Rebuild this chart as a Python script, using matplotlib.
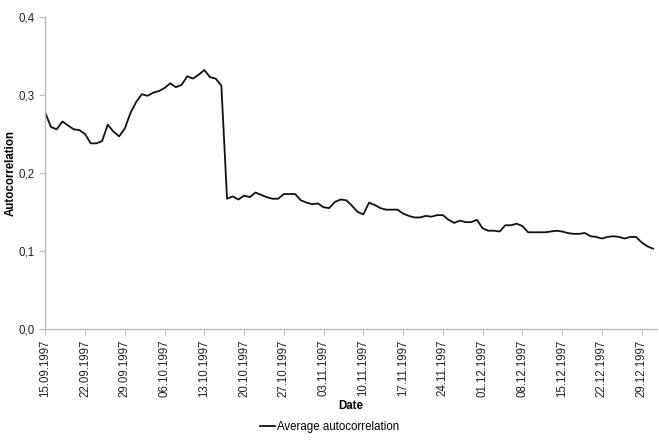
import pandas as pd
import matplotlib
matplotlib.use("Agg")
from matplotlib import pyplot as plt
import matplotlib.dates as mdates
from matplotlib.ticker import FuncFormatter, MultipleLocator


# Daily average autocorrelation, 15.09.1997 - 31.12.1997
start_date = "1997-09-15"
autocorr = [
    0.277, 0.259, 0.256, 0.266, 0.261, 0.256, 0.255, 0.250, 0.238, 0.238,
    0.241, 0.262, 0.253, 0.247, 0.257, 0.277, 0.291, 0.301, 0.299, 0.303,
    0.305, 0.309, 0.315, 0.310, 0.313, 0.324, 0.321, 0.326, 0.332, 0.323,
    0.321, 0.312, 0.167, 0.170, 0.166, 0.171, 0.169, 0.175, 0.172, 0.169,
    0.167, 0.167, 0.173, 0.173, 0.173, 0.165, 0.162, 0.160, 0.161, 0.156,
    0.155, 0.163, 0.166, 0.165, 0.158, 0.150, 0.147, 0.162, 0.159, 0.155,
    0.153, 0.153, 0.153, 0.148, 0.145, 0.143, 0.143, 0.145, 0.144, 0.146,
    0.146, 0.140, 0.136, 0.139, 0.137, 0.137, 0.140, 0.129, 0.126, 0.126,
    0.125, 0.133, 0.133, 0.135, 0.132, 0.124, 0.124, 0.124, 0.124, 0.125,
    0.126, 0.125, 0.123, 0.122, 0.122, 0.123, 0.119, 0.118, 0.116, 0.118,
    0.119, 0.118, 0.116, 0.118, 0.118, 0.111, 0.106, 0.103,
]
dates = pd.date_range(start_date, periods=len(autocorr), freq="D")
tick_dates = pd.date_range("1997-09-15", "1997-12-29", freq="7D")

plt.rcParams['font.family'] = ['Liberation Sans', 'DejaVu Sans']

fig = plt.figure(figsize=(6.59, 4.46), dpi=100)
ax = fig.add_axes([45 / 659, 1 - 329 / 446, 612 / 659, 312 / 446])

line, = ax.plot(dates, autocorr, color='#111111', linewidth=1.3,
                label='Average autocorrelation')

ax.set_ylim(0, 0.4)
ax.yaxis.set_major_locator(MultipleLocator(0.1))
ax.yaxis.set_major_formatter(
    FuncFormatter(lambda v, p: f"{v:.1f}".replace('.', ',')))
ax.set_xlim(dates[0] - pd.Timedelta(days=0.05),
            dates[-1] + pd.Timedelta(days=0.7))
ax.set_xticks(tick_dates)
ax.xaxis.set_major_formatter(mdates.DateFormatter('%d.%m.%Y'))

for side in ['top', 'right']:
    ax.spines[side].set_visible(False)
for side in ['left', 'bottom']:
    ax.spines[side].set_color('#bbbbbb')
    ax.spines[side].set_linewidth(1.0)

ax.tick_params(axis='both', colors='#bbbbbb', labelcolor='#222222',
               labelsize=8.3, length=4, direction='out')
ax.tick_params(axis='x', labelrotation=90)

ax.set_xlabel('Date', fontsize=8.3, fontweight='bold', labelpad=2)
ax.set_ylabel('Autocorrelation', fontsize=8.3, fontweight='bold', labelpad=1)

fig.legend(handles=[line], loc='center', bbox_to_anchor=(0.5, 1 - 427 / 446),
           frameon=False, fontsize=8.3, handlelength=1.3, handletextpad=0.1)

plt.savefig('out.png', dpi=100)
